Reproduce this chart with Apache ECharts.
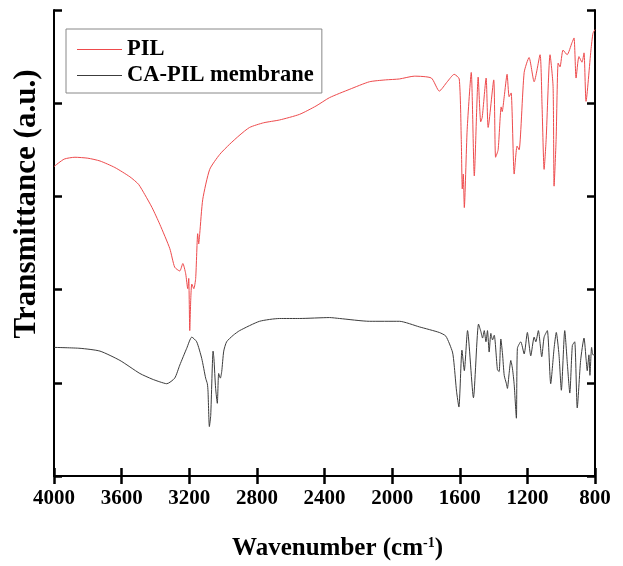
<!DOCTYPE html>
<html>
<head>
<meta charset="utf-8">
<script src="https://cdn.jsdelivr.net/npm/echarts@6/dist/echarts.min.js"></script>
<style>
  html, body { margin: 0; padding: 0; background: #fff; }
  #main { width: 623px; height: 566px; }
</style>
</head>
<body>
<div id="main"></div>
<script>
// x tick labels (wavenumber, cm-1)
var xTicks = [4000, 3600, 3200, 2800, 2400, 2000, 1600, 1200, 800];

// PIL spectrum (red)
var pilWavenumber = [4000, 3940, 3876, 3800, 3728, 3640, 3551, 3500, 3463, 3420, 3374, 3315, 3286, 3256, 3238, 3221, 3209, 3203, 3197, 3191, 3185, 3173, 3162, 3150, 3144, 3138, 3120, 3079, 3020, 2961, 2900, 2843, 2760, 2666, 2548, 2450, 2370, 2250, 2134, 2040, 1957, 1869, 1768, 1721, 1674, 1633, 1603, 1591, 1585, 1579, 1573, 1556, 1532, 1514, 1491, 1476, 1467, 1444, 1432, 1399, 1388, 1373, 1355, 1349, 1337, 1320, 1308, 1296, 1278, 1261, 1249, 1219, 1190, 1160, 1125, 1113, 1101, 1089, 1066, 1048, 1042, 1030, 1018, 1007, 989, 965, 936, 924, 912, 895, 877, 865, 853, 824, 812, 800];
var pilValues = [3.32, 3.40, 3.42, 3.41, 3.38, 3.31, 3.21, 3.13, 3.02, 2.88, 2.70, 2.44, 2.24, 2.20, 2.28, 2.17, 2.01, 2.12, 1.56, 1.90, 2.06, 2.01, 2.12, 2.60, 2.49, 2.60, 2.97, 3.29, 3.45, 3.56, 3.66, 3.74, 3.79, 3.82, 3.88, 3.97, 4.06, 4.15, 4.23, 4.25, 4.26, 4.29, 4.27, 4.13, 4.23, 4.31, 4.26, 3.61, 3.08, 3.24, 2.88, 3.72, 4.33, 3.22, 4.28, 3.80, 3.85, 4.27, 3.74, 4.25, 3.42, 3.50, 3.96, 3.91, 4.07, 4.31, 4.07, 4.11, 3.24, 3.54, 3.50, 4.33, 4.49, 4.23, 4.52, 3.96, 3.29, 3.61, 4.52, 4.18, 3.11, 3.61, 4.43, 4.39, 4.57, 4.52, 4.65, 4.70, 4.27, 4.50, 4.44, 4.54, 4.02, 4.57, 4.75, 4.79];

// CA-PIL membrane spectrum (black)
var caWavenumber = [4000, 3846, 3728, 3610, 3492, 3420, 3374, 3333, 3286, 3256, 3215, 3185, 3156, 3126, 3103, 3093, 3089, 3081, 3073, 3059, 3054, 3044, 3034, 3026, 3016, 3008, 2996, 2979, 2940, 2902, 2784, 2666, 2548, 2370, 2311, 2134, 1957, 1839, 1721, 1682, 1643, 1633, 1619, 1605, 1587, 1573, 1554, 1519, 1489, 1475, 1465, 1455, 1445, 1436, 1426, 1416, 1406, 1396, 1377, 1367, 1357, 1347, 1337, 1324, 1318, 1308, 1298, 1288, 1278, 1265, 1259, 1239, 1219, 1200, 1180, 1160, 1150, 1135, 1115, 1101, 1082, 1062, 1042, 1029, 1013, 999, 979, 963, 949, 934, 920, 905, 885, 865, 852, 846, 836, 830, 820, 812, 800];
var caValues = [1.38, 1.37, 1.34, 1.24, 1.10, 1.04, 1.01, 0.99, 1.05, 1.19, 1.37, 1.49, 1.44, 1.26, 1.05, 0.99, 0.91, 0.53, 0.65, 1.34, 1.26, 0.94, 0.78, 1.10, 1.05, 1.12, 1.34, 1.44, 1.51, 1.56, 1.66, 1.69, 1.69, 1.70, 1.69, 1.66, 1.66, 1.60, 1.54, 1.50, 1.33, 1.19, 0.91, 0.74, 1.35, 1.13, 1.56, 0.84, 1.63, 1.55, 1.48, 1.56, 1.44, 1.56, 1.33, 1.53, 1.46, 1.51, 1.14, 1.12, 1.47, 1.31, 1.08, 0.99, 0.94, 1.10, 1.24, 1.15, 0.98, 0.62, 1.37, 1.44, 1.31, 1.54, 1.29, 1.49, 1.44, 1.56, 1.28, 1.49, 1.56, 0.99, 1.37, 1.54, 1.30, 0.92, 1.56, 1.19, 0.89, 1.40, 1.44, 0.73, 1.24, 1.48, 1.24, 1.13, 1.30, 1.08, 1.38, 1.30, 1.30];

function zip(xs, ys) {
  return xs.map(function (x, i) { return [x, ys[i]]; });
}

var serif = 'Liberation Serif';
var redColor = '#ee4a4c';
var greyColor = '#3c3c3c';
var myChart = echarts.init(document.getElementById('main'));

var axisCommon = {
  type: 'value',
  axisLine: { show: true, lineStyle: { color: '#000', width: 2 } },
  axisTick: { show: true, inside: true, length: 8, lineStyle: { color: '#000', width: 2.5 } },
  splitLine: { show: false }
};

var option = {
  animation: false,
  backgroundColor: '#fff',
  grid: { left: 54, right: 28, top: 10, bottom: 88 },
  legend: {
    left: 66,
    top: 29,
    orient: 'vertical',
    padding: [9, 8, 6, 11],
    itemGap: 3,
    itemWidth: 45,
    itemHeight: 1,
    icon: 'rect',
    borderColor: '#888',
    borderWidth: 1,
    textStyle: { fontFamily: serif, fontWeight: 'bold', fontSize: 22.5, color: '#000' },
    data: ['PIL', 'CA-PIL membrane']
  },
  xAxis: [
    Object.assign({}, axisCommon, {
      position: 'bottom',
      min: 800, max: 4000, interval: 400, inverse: true,
      axisLabel: {
        margin: 12,
        fontFamily: serif, fontWeight: 'bold', fontSize: 21, color: '#000',
        formatter: function (v) { return xTicks.indexOf(v) >= 0 ? String(v) : ''; }
      },
      name: '{t|Wavenumber (cm}{s|-1}{t|)}',
      nameLocation: 'middle',
      nameGap: 60,
      nameTextStyle: {
        padding: [0, 0, 0, 26],
        rich: {
          t: { fontFamily: serif, fontWeight: 'bold', fontSize: 25, color: '#000' },
          s: { fontFamily: serif, fontWeight: 'bold', fontSize: 14, color: '#000', verticalAlign: 'top' }
        }
      }
    }),
    Object.assign({}, axisCommon, {
      position: 'top',
      min: 800, max: 4000, interval: 400, inverse: true,
      axisLabel: { show: false }
    })
  ],
  yAxis: [
    Object.assign({}, axisCommon, {
      position: 'left',
      min: 0, max: 5, interval: 1,
      axisLabel: { show: false }
    }),
    Object.assign({}, axisCommon, {
      position: 'right',
      min: 0, max: 5, interval: 1,
      axisLabel: { show: false }
    })
  ],
  graphic: [{
    type: 'text',
    x: 27,
    y: 204,
    rotation: Math.PI / 2,
    style: {
      text: 'Transmittance (a.u.)',
      align: 'center',
      verticalAlign: 'middle',
      fontFamily: serif, fontWeight: 'bold', fontSize: 31, fill: '#000'
    }
  }],
  series: [
    {
      name: 'PIL',
      type: 'line',
      symbol: 'none',
      smooth: 0.2,
      data: zip(pilWavenumber, pilValues),
      lineStyle: { color: redColor, width: 1 },
      itemStyle: { color: redColor }
    },
    {
      name: 'CA-PIL membrane',
      type: 'line',
      symbol: 'none',
      smooth: 0.2,
      data: zip(caWavenumber, caValues),
      lineStyle: { color: greyColor, width: 1 },
      itemStyle: { color: greyColor }
    }
  ]
};

myChart.setOption(option);
</script>
</body>
</html>
